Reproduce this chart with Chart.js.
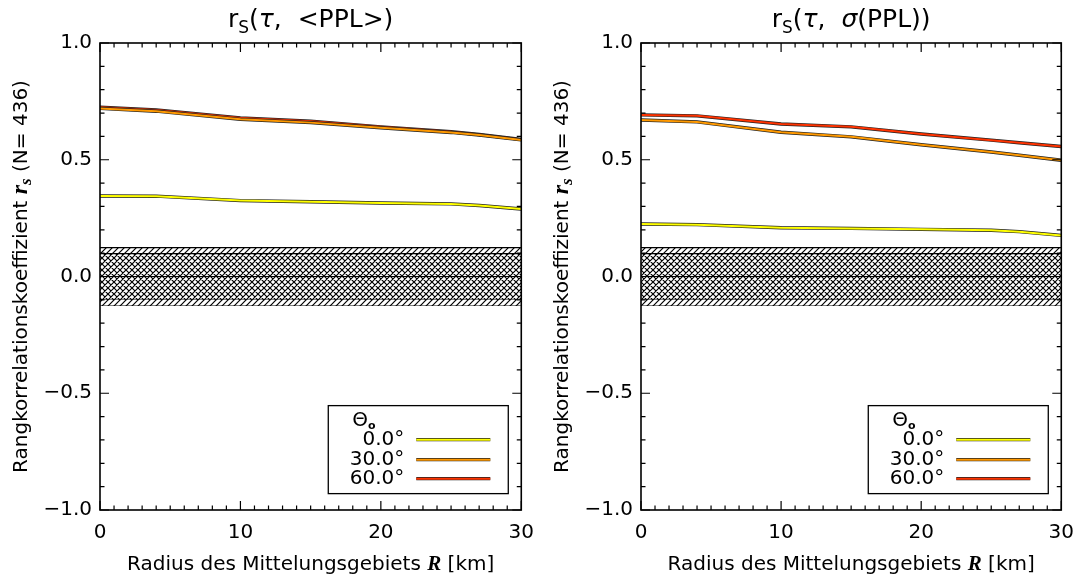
<!DOCTYPE html>
<html><head><meta charset="utf-8">
<script src="https://cdn.jsdelivr.net/npm/chart.js@4/dist/chart.umd.min.js"></script>
<style>
body{margin:0;background:#fff;width:1085px;height:580px;overflow:hidden;position:relative}
.c{position:absolute;top:0;height:580px}
</style></head><body>
<div class="c" style="left:0;width:545px"><canvas id="c1"></canvas></div>
<div class="c" style="left:545px;width:540px"><canvas id="c2"></canvas></div>
<script>
// ---- data ----
const radii = [0, 4, 10, 15, 20, 25, 27, 30];
const thetaLabels = ['0.0°', '30.0°', '60.0°'];
const leftTheta0  = [0.345, 0.344, 0.325, 0.320, 0.315, 0.311, 0.304, 0.289];
const leftTheta30 = [0.720, 0.708, 0.673, 0.659, 0.637, 0.617, 0.606, 0.585];
const leftTheta60 = [0.725, 0.713, 0.679, 0.665, 0.641, 0.620, 0.608, 0.587];
const rightTheta0  = [0.225, 0.222, 0.209, 0.206, 0.202, 0.198, 0.192, 0.176];
const rightTheta30 = [0.670, 0.662, 0.618, 0.598, 0.564, 0.533, 0.519, 0.498];
const rightTheta60 = [0.692, 0.688, 0.653, 0.641, 0.610, 0.584, 0.573, 0.557];
const xTickValues = [0, 10, 20, 30];
const xTickLabels = ['0', '10', '20', '30'];
const yTickValues = [-1, -0.5, 0, 0.5, 1];
const yTickLabels = ['\u22121.0', '\u22120.5', '0.0', '0.5', '1.0'];
const bandX = [0, 30];
const sigOuter = 0.124;
const sigInner = 0.098;

// ---- styles ----
const seriesColors = ['#ffff00', '#ff9900', '#ff3300'];
const FONT = '"DejaVu Sans", sans-serif';
Chart.defaults.font.family = FONT;
Chart.defaults.color = '#000';

function makePattern(cross, s){
  const c = document.createElement('canvas'); c.width = c.height = s;
  const g = c.getContext('2d');
  g.fillStyle = '#fff'; g.fillRect(0,0,s,s);
  g.strokeStyle = '#000'; g.lineWidth = 1.2;
  g.beginPath();
  g.moveTo(-1, s+1); g.lineTo(s+1, -1);
  g.moveTo(-1, 1); g.lineTo(1, -1);
  g.moveTo(s-1, s+1); g.lineTo(s+1, s-1);
  if (cross){
    g.moveTo(-1,-1); g.lineTo(s+1,s+1);
    g.moveTo(s-1,-1); g.lineTo(s+1,1);
    g.moveTo(-1,s-1); g.lineTo(1,s+1);
  }
  g.stroke();
  return g.createPattern(c, 'repeat');
}
const hatch = makePattern(false, 6);
const crossHatch = makePattern(true, 6);

function pts(ys){ return radii.map((x,i)=>({x, y: ys[i]})); }
function band(v){ return bandX.map(x=>({x, y:v})); }

function buildDatasets(s0, s30, s60){
  const base = {pointRadius:0, tension:0, borderWidth:1.2, borderColor:'#000', fill:false};
  const ds = [
    {...base, data: band(sigOuter), backgroundColor: hatch, fill:'+1', order:100},
    {...base, data: band(-sigOuter), order:100},
    {...base, data: band(sigInner), backgroundColor: crossHatch, fill:'+1', order:90},
    {...base, data: band(-sigInner), order:90},
    {...base, data: band(0), order:80},
  ];
  const series = [[s0,0,70],[s60,2,60],[s30,1,50]];
  for (const [vals, ci, ord] of series){
    ds.push({...base, label: thetaLabels[ci]+' outline', data: pts(vals), borderColor:'#222', borderWidth:3.4, order:ord});
    ds.push({...base, label: thetaLabels[ci], data: pts(vals), borderColor: seriesColors[ci], borderWidth:2, order:ord-1});
  }
  return ds;
}

function drawRich(ctx, parts, x, y, align){
  let w = 0;
  for (const p of parts){ ctx.font = p.font; w += ctx.measureText(p.t).width; }
  let cx = align === 'center' ? x - w/2 : (align === 'right' ? x - w : x);
  for (const p of parts){
    ctx.font = p.font;
    ctx.fillText(p.t, cx, y + (p.dy||0));
    cx += ctx.measureText(p.t).width;
  }
}

function decorPlugin(cfg){
  return {
    id: 'decor',
    afterDraw(chart){
      const ctx = chart.ctx, a = chart.chartArea;
      const xs = chart.scales.x, ys = chart.scales.y;
      ctx.save();
      ctx.strokeStyle = '#000'; ctx.lineWidth = 1.6;
      ctx.strokeRect(a.left, a.top, a.right - a.left, a.bottom - a.top);
      ctx.lineWidth = 1.2;
      ctx.beginPath();
      for (let i = 0; i <= 30; i++){
        const px = xs.getPixelForValue(i);
        const len = (i % 10 === 0) ? 9 : 4.5;
        ctx.moveTo(px, a.bottom); ctx.lineTo(px, a.bottom - len);
        ctx.moveTo(px, a.top); ctx.lineTo(px, a.top + len);
      }
      for (let i = -10; i <= 10; i++){
        const py = ys.getPixelForValue(i/10);
        const len = (i % 5 === 0) ? 9 : 4.5;
        ctx.moveTo(a.left, py); ctx.lineTo(a.left + len, py);
        ctx.moveTo(a.right, py); ctx.lineTo(a.right - len, py);
      }
      ctx.stroke();
      ctx.fillStyle = '#000';
      ctx.textBaseline = 'alphabetic';
      drawRich(ctx, cfg.title, (a.left + a.right)/2, 27, 'center');
      drawRich(ctx, [
        {t:'Radius des Mittelungsgebiets ', font:'20px '+FONT},
        {t:'R', font:'bold italic 21px "Liberation Serif"'},
        {t:' [km]', font:'20px '+FONT}
      ], (a.left + a.right)/2, 570, 'center');
      ctx.save();
      ctx.translate(a.left - 73, (a.top + a.bottom)/2);
      ctx.rotate(-Math.PI/2);
      drawRich(ctx, [
        {t:'Rangkorrelationskoeffizient ', font:'20px '+FONT},
        {t:'r', font:'bold italic 24px "Liberation Serif"'},
        {t:'s', font:'bold italic 17px "Liberation Serif"', dy:4},
        {t:' (N= 436)', font:'20px '+FONT}
      ], 0, 0, 'center');
      ctx.restore();
      // legend
      const R = a.right - 13, T = ys.getPixelForValue(-0.553), B = T + 88;
      const L = R - 180;
      ctx.fillStyle = '#fff';
      ctx.fillRect(L, T, R - L, B - T);
      ctx.lineWidth = 1.3; ctx.strokeStyle = '#000';
      ctx.strokeRect(L, T, R - L, B - T);
      ctx.fillStyle = '#000';
      const textR = R - 104;
      drawRich(ctx, [
        {t:'\u0398', font:'20px '+FONT},
        {t:'o', font:'bold 11px '+FONT, dy:3}
      ], textR - 52, T + 20, 'left');
      const rows = [T + 34, T + 54, T + 73];
      for (let k = 0; k < 3; k++){
        ctx.font = '20px ' + FONT; ctx.textAlign = 'right'; ctx.textBaseline = 'middle';
        ctx.fillText(thetaLabels[k], textR, rows[k]);
        ctx.textAlign = 'left'; ctx.textBaseline = 'alphabetic';
        ctx.beginPath(); ctx.moveTo(R - 92, rows[k]); ctx.lineTo(R - 18, rows[k]);
        ctx.lineWidth = 3.4; ctx.strokeStyle = '#222'; ctx.stroke();
        ctx.beginPath(); ctx.moveTo(R - 92, rows[k]); ctx.lineTo(R - 18, rows[k]);
        ctx.lineWidth = 2; ctx.strokeStyle = seriesColors[k]; ctx.stroke();
      }
      ctx.restore();
    }
  };
}

function makeChart(id, s0, s30, s60, yWidth, padRight, title){
  return new Chart(document.getElementById(id), {
    type: 'line',
    data: { datasets: buildDatasets(s0, s30, s60) },
    options: {
      responsive: true, maintainAspectRatio: false, animation: false,
      layout: { padding: { left: 0, right: padRight, top: 43, bottom: 0 } },
      plugins: { legend: {display:false}, tooltip: {enabled:false} },
      scales: {
        x: { type:'linear', min:0, max:30,
             grid:{display:false, drawTicks:false}, border:{display:false},
             afterBuildTicks: s => { s.ticks = xTickValues.map(v=>({value:v})); },
             afterFit: s => { s.height = 70; },
             ticks:{ font:{size:20}, color:'#000', padding:11, maxRotation:0,
                     callback: v => xTickLabels[xTickValues.indexOf(v)] } },
        y: { type:'linear', min:-1, max:1,
             grid:{display:false, drawTicks:false}, border:{display:false},
             afterBuildTicks: s => { s.ticks = yTickValues.map(v=>({value:v})); },
             afterFit: s => { s.width = yWidth; },
             ticks:{ font:{size:20}, color:'#000', padding:8,
                     callback: v => yTickLabels[yTickValues.indexOf(v)] } }
      }
    },
    plugins: [decorPlugin({title})]
  });
}

const T25 = '25px ' + FONT, T25i = 'italic 25px ' + FONT;
makeChart('c1', leftTheta0, leftTheta30, leftTheta60, 100, 17, [
  {t:'r', font:T25}, {t:'S', font:'17px '+FONT, dy:6},
  {t:'(', font:T25}, {t:'\u03c4', font:T25i}, {t:',  <PPL>)', font:T25}
]);
makeChart('c2', rightTheta0, rightTheta30, rightTheta60, 96, 23, [
  {t:'r', font:T25}, {t:'S', font:'17px '+FONT, dy:6},
  {t:'(', font:T25}, {t:'\u03c4', font:T25i}, {t:',  ', font:T25},
  {t:'\u03c3', font:T25i}, {t:'(PPL))', font:T25}
]);
</script>
</body></html>
